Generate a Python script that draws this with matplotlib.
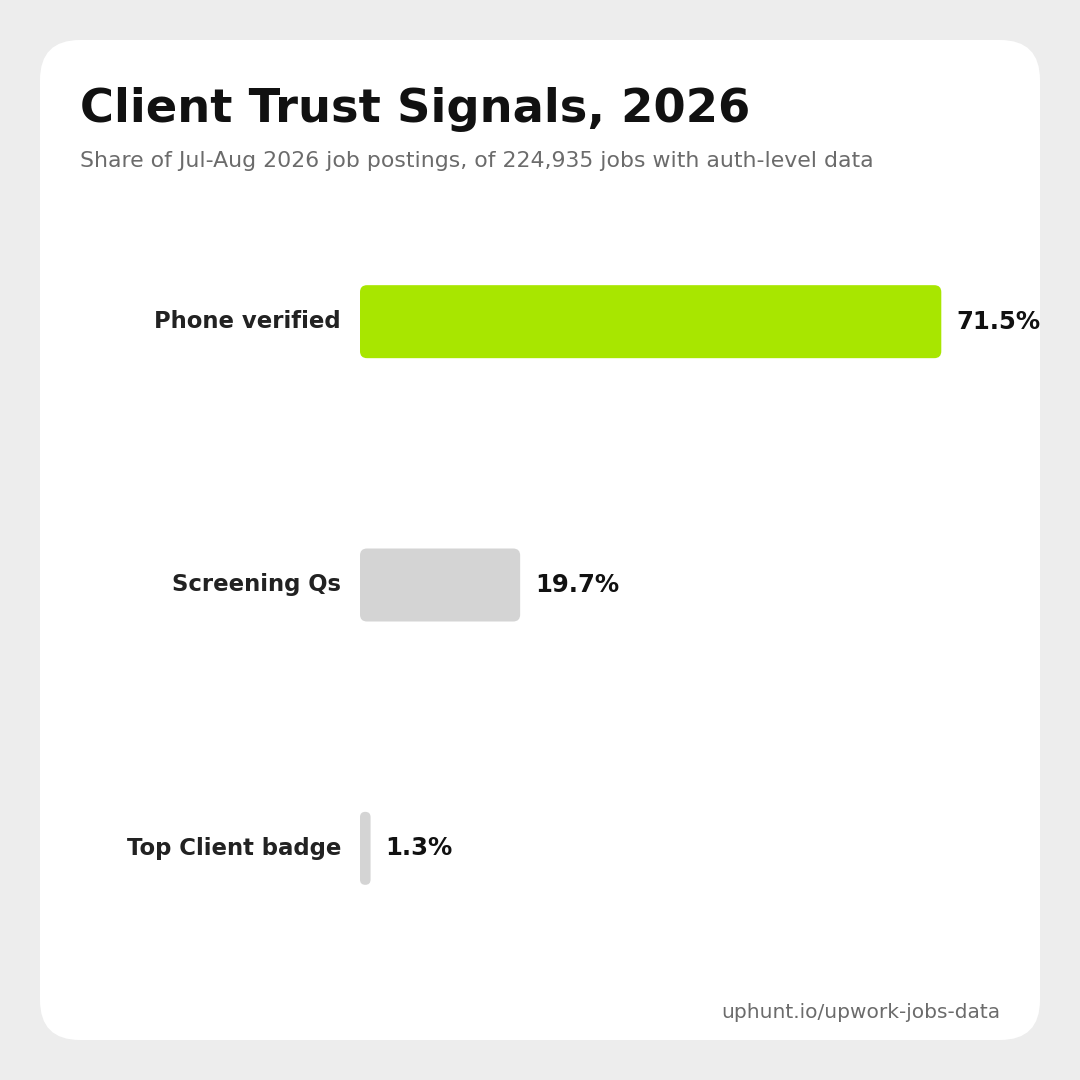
import matplotlib.pyplot as plt
from matplotlib.patches import FancyBboxPatch

plt.rcParams['font.family'] = ['DejaVu Sans']

categories = ["Phone verified", "Screening Qs", "Top Client badge"]
values = [71.5, 19.7, 1.3]
colors = ["#a8e600", "#d4d4d4", "#d4d4d4"]

W = 1080
fig = plt.figure(figsize=(10.8, 10.8), dpi=100)
fig.patch.set_facecolor("#ededed")

# white card
card = FancyBboxPatch((40 / W, 40 / W), 1000 / W, 1000 / W,
                      boxstyle="round,pad=0,rounding_size=0.037",
                      transform=fig.transFigure, facecolor="white", edgecolor="none",
                      zorder=-5)
fig.patches.append(card)

fig.text(80 / W, 1 - 110 / W, "Client Trust Signals, 2026", fontsize=33.4,
         fontweight="bold", color="#111111", va="center", ha="left")
fig.text(80 / W, 1 - 161 / W, "Share of Jul-Aug 2026 job postings, of 224,935 jobs with auth-level data",
         fontsize=15.8, color="#6b6b6b", va="center", ha="left")
fig.text(1000 / W, 1 - 1013 / W, "uphunt.io/upwork-jobs-data", fontsize=14.5,
         color="#6b6b6b", va="center", ha="right")

px_per_unit = 8.13
ax_left, ax_right, ax_top, ax_bot = 360, 1040, 190, 980
ax = fig.add_axes([ax_left / W, 1 - ax_bot / W, (ax_right - ax_left) / W, (ax_bot - ax_top) / W])
ax.set_xlim(0, (ax_right - ax_left) / px_per_unit)
ax.set_ylim(2.5, -0.5)
ax.axis("off")

row_px = (ax_bot - ax_top) / 3
aspect = (1 / row_px) / (1 / px_per_unit)
h = 73 / row_px
for i, (cat, v, c) in enumerate(zip(categories, values, colors)):
    r = min(7 / px_per_unit, v / 2)
    ax.add_patch(FancyBboxPatch((0, i - h / 2), v, h,
                                boxstyle=f"round,pad=0,rounding_size={r}",
                                mutation_aspect=aspect, facecolor=c, edgecolor="none"))
    ax.text(v + 15 / px_per_unit, i, f"{v}%", fontsize=17.5, fontweight="bold",
            color="#111111", va="center", ha="left", clip_on=False)
    ax.text(-19 / px_per_unit, i, cat, fontsize=16.4, fontweight="bold",
            color="#222222", va="center", ha="right", clip_on=False)

fig.savefig("out.png", dpi=100, facecolor=fig.get_facecolor())
